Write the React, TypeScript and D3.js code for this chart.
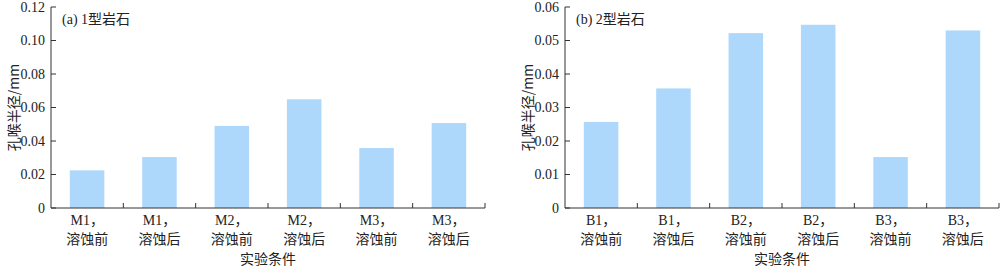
import React from "react";
import * as d3 from "d3";

const catsA = ["M1", "M1", "M2", "M2", "M3", "M3"];
const catsB = ["B1", "B1", "B2", "B2", "B3", "B3"];
const states = ["溶蚀前", "溶蚀后", "溶蚀前", "溶蚀后", "溶蚀前", "溶蚀后"];
const valuesA = [0.0225, 0.0304, 0.049, 0.0649, 0.0358, 0.0507];
const valuesB = [0.0257, 0.0357, 0.0522, 0.0547, 0.0152, 0.053];
const ticksA = [0, 0.02, 0.04, 0.06, 0.08, 0.1, 0.12];
const ticksB = [0, 0.01, 0.02, 0.03, 0.04, 0.05, 0.06];
const tickLabelsA = ["0", "0.02", "0.04", "0.06", "0.08", "0.10", "0.12"];
const tickLabelsB = ["0", "0.01", "0.02", "0.03", "0.04", "0.05", "0.06"];

const LATIN = "'Liberation Serif', 'Times New Roman', 'Noto Sans CJK SC', serif";
const CJK = "'Noto Sans CJK SC', sans-serif";
const AXIS = "#333";
const BAR = "#aed8fb";

function Panel(props: {
  x0: number; x1: number; yMax: number; ticks: number[]; tickLabels: string[];
  cats: string[]; values: number[]; title: string;
}) {
  const { x0, x1, yMax, ticks, tickLabels, cats, values, title } = props;
  const top = 7, bottom = 208;
  const y = d3.scaleLinear().domain([0, yMax]).range([bottom, top]);
  const idx = cats.map((_, i) => String(i));
  const x = d3.scaleBand().domain(idx).range([x0, x1]).paddingInner(0.523).paddingOuter(0.26);
  const xb = d3.scaleBand().domain(idx).range([x0, x1]);
  return (
    <g>
      {values.map((v, i) => (
        <rect key={i} x={x(String(i))!} width={x.bandwidth()} y={y(v)} height={bottom - y(v)} fill={BAR} />
      ))}
      <line x1={x0} x2={x0} y1={top} y2={bottom} stroke={AXIS} strokeWidth={1} />
      <line x1={x0} x2={x1} y1={bottom} y2={bottom} stroke={AXIS} strokeWidth={1} />
      {ticks.map((t, i) => (
        <g key={i}>
          <line x1={x0} x2={x0 + 5} y1={y(t)} y2={y(t)} stroke={AXIS} />
          <text x={x0 - 6} y={y(t)} dy="0.35em" textAnchor="end" fontFamily={LATIN} fontSize={14} fill="#222">
            {tickLabels[i]}
          </text>
        </g>
      ))}
      {idx.map((d, i) => (
        <line key={i} x1={xb(d)! + xb.bandwidth()} x2={xb(d)! + xb.bandwidth()} y1={bottom} y2={bottom - 5} stroke={AXIS} />
      ))}
      {cats.map((c, i) => {
        const cx = xb(String(i))! + xb.bandwidth() / 2;
        return (
          <g key={i}>
            <text x={cx} y={225} textAnchor="middle" fontFamily={LATIN} fontSize={14} fill="#222">
              {c}<tspan fontFamily={CJK}>，</tspan>
            </text>
            <text x={cx} y={244} textAnchor="middle" fontFamily={CJK} fontSize={14} fill="#222">
              {states[i]}
            </text>
          </g>
        );
      })}
      <text x={(x0 + x1) / 2} y={264} textAnchor="middle" fontFamily={CJK} fontSize={14} fill="#222">实验条件</text>
      <text transform={`translate(${x0 - 37},${(top + bottom) / 2}) rotate(-90)`} textAnchor="middle" dy="0.35em" fontFamily={CJK} fontSize={14} fill="#222">
        孔喉半径/mm
      </text>
      <text x={x0 + 11} y={24} fontFamily={LATIN} fontSize={14} fill="#222">{title}</text>
    </g>
  );
}

export default function App() {
  return (
    <svg width={1000} height={269} style={{ position: "absolute", left: 0, top: 0, background: "#fff" }}>
      <Panel x0={51} x1={485} yMax={0.12} ticks={ticksA} tickLabels={tickLabelsA} cats={catsA} values={valuesA} title="(a) 1型岩石" />
      <Panel x0={565} x1={999} yMax={0.06} ticks={ticksB} tickLabels={tickLabelsB} cats={catsB} values={valuesB} title="(b) 2型岩石" />
    </svg>
  );
}
